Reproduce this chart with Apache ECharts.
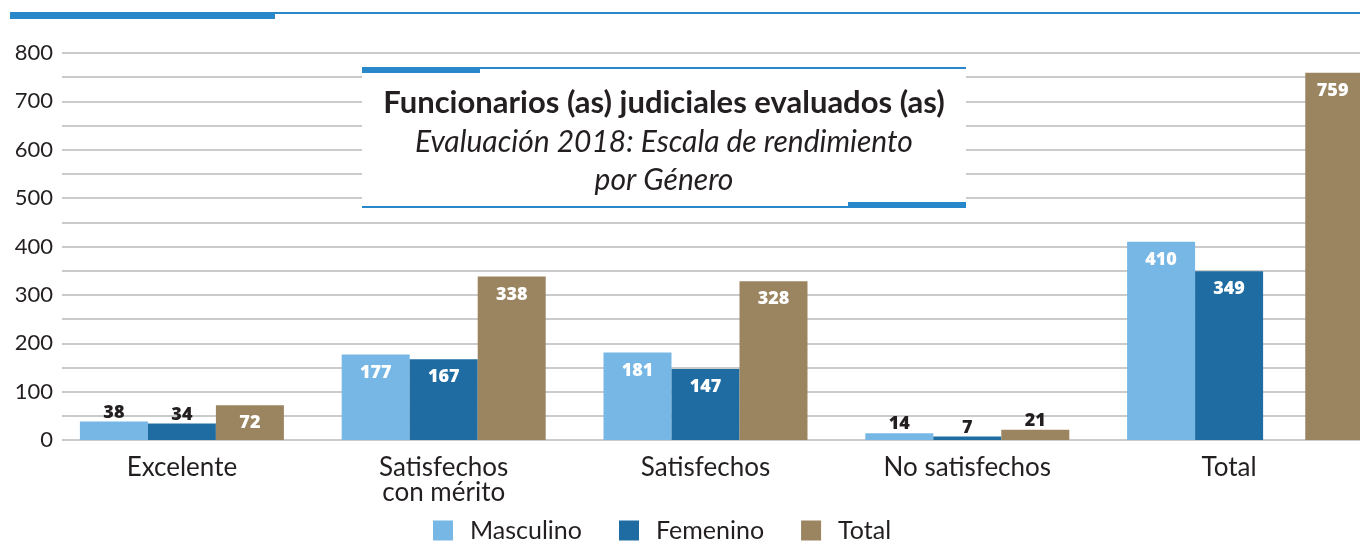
<!DOCTYPE html>
<html>
<head>
<meta charset="utf-8">
<script src="https://cdn.jsdelivr.net/npm/echarts@6/dist/echarts.min.js"></script>
<style>
  html, body { margin: 0; padding: 0; background: #fff; }
  #chart { width: 1360px; height: 550px; }
</style>
</head>
<body>
<div id="chart"></div>
<script>
const categories = ["Excelente", "Satisfechos\ncon mérito", "Satisfechos", "No satisfechos", "Total"];
const masculino = [38, 177, 181, 14, 410];
const femenino = [34, 167, 147, 7, 349];
const total = [72, 338, 328, 21, 759];

const COLORS = { masc: "#77b7e5", fem: "#1f6ca3", total: "#9a8560", line: "#2888c9" };
const INK = "#231f20";

// small bars keep the number above, the rest inside in white
const withLabels = (arr) =>
  arr.map((v) => {
    if (v === "-") return v;
    const small = v < 50;
    return {
      value: v,
      label: {
        position: small ? "top" : "insideTop",
        color: small ? INK : "#fff",
        distance: small ? 0 : 9
      }
    };
  });

const labelStyle = { show: true, fontFamily: "Open Sans", fontWeight: 800, fontSize: 18 };

// the last Total bar sits apart from its group, so it goes on its own hidden axis
const totalMain = total.map((v, i) => (i === total.length - 1 ? "-" : v));
const totalLast = total.map((v, i) => (i === total.length - 1 ? v : "-"));
const spacer = total.map(() => "-");

const chart = echarts.init(document.getElementById("chart"));

const option = {
  animation: false,
  grid: { left: 51, right: 0, top: 53, bottom: 110 },
  legend: {
    data: ["Masculino", "Femenino", "Total"],
    bottom: 2,
    left: 428,
    icon: "rect",
    itemWidth: 20,
    itemHeight: 20,
    itemGap: 37,
    textStyle: { fontFamily: "Lato", fontSize: 25, color: INK, padding: [0, 0, 0, 12] }
  },
  xAxis: [
    {
      type: "category",
      data: categories,
      axisLine: { show: false },
      axisTick: { show: false },
      axisLabel: { fontFamily: "Lato", fontSize: 26, color: INK, margin: 15, lineHeight: 25 }
    },
    { type: "category", data: categories, show: false }
  ],
  yAxis: [
    {
      type: "value",
      min: 0,
      max: 800,
      interval: 50,
      z: 1,
      axisLine: { show: false },
      axisTick: { show: false },
      axisLabel: { show: false },
      splitLine: { lineStyle: { color: "#cbcbcb", width: 2 } }
    },
    {
      type: "value",
      position: "left",
      min: 0,
      max: 800,
      interval: 100,
      z: 3,
      axisLine: { show: false },
      axisTick: { show: false },
      splitLine: { show: false },
      axisLabel: { fontFamily: "Lato", fontSize: 22, color: INK, margin: -2 }
    }
  ],
  series: [
    { name: "Masculino", type: "bar", barWidth: 68, barGap: "0%", itemStyle: { color: COLORS.masc }, label: labelStyle, data: withLabels(masculino) },
    { name: "Femenino", type: "bar", barWidth: 68, barGap: "0%", itemStyle: { color: COLORS.fem }, label: labelStyle, data: withLabels(femenino) },
    { name: "Total", type: "bar", barWidth: 68, barGap: "0%", itemStyle: { color: COLORS.total }, label: labelStyle, data: withLabels(totalMain) },
    { name: "spacer", type: "bar", xAxisIndex: 1, barWidth: 68, barGap: "224%", data: spacer },
    { name: "Total", type: "bar", xAxisIndex: 1, barWidth: 68, barGap: "224%", itemStyle: { color: COLORS.total }, label: labelStyle, data: withLabels(totalLast) }
  ],
  graphic: [
    // gridlines begin a little right of the plot edge
    { type: "rect", z: 2, shape: { x: 50, y: 45, width: 12, height: 400 }, style: { fill: "#fff" } },
    // top rule
    { type: "rect", shape: { x: 10, y: 12, width: 1350, height: 2 }, style: { fill: COLORS.line } },
    { type: "rect", shape: { x: 10, y: 12, width: 265, height: 7 }, style: { fill: COLORS.line } },
    // title box
    { type: "rect", z: 10, shape: { x: 362, y: 67, width: 604, height: 141 }, style: { fill: "#fff" } },
    { type: "rect", z: 11, shape: { x: 362, y: 67, width: 604, height: 2 }, style: { fill: COLORS.line } },
    { type: "rect", z: 11, shape: { x: 362, y: 67, width: 118, height: 6 }, style: { fill: COLORS.line } },
    { type: "rect", z: 11, shape: { x: 362, y: 206, width: 604, height: 2 }, style: { fill: COLORS.line } },
    { type: "rect", z: 11, shape: { x: 848, y: 202, width: 118, height: 6 }, style: { fill: COLORS.line } },
    {
      type: "text", z: 12, x: 664, y: 103,
      style: { text: "Funcionarios (as) judiciales evaluados (as)", fontFamily: "Lato", fontWeight: "bold", fontSize: 31, fill: INK, align: "center", verticalAlign: "middle" }
    },
    {
      type: "text", z: 12, x: 664, y: 142,
      style: { text: "Evaluación 2018: Escala de rendimiento", fontFamily: "Lato", fontStyle: "italic", fontSize: 30, fill: INK, align: "center", verticalAlign: "middle" }
    },
    {
      type: "text", z: 12, x: 664, y: 180,
      style: { text: "por Género", fontFamily: "Lato", fontStyle: "italic", fontSize: 30, fill: INK, align: "center", verticalAlign: "middle" }
    }
  ]
};

chart.setOption(option);
</script>
</body>
</html>
